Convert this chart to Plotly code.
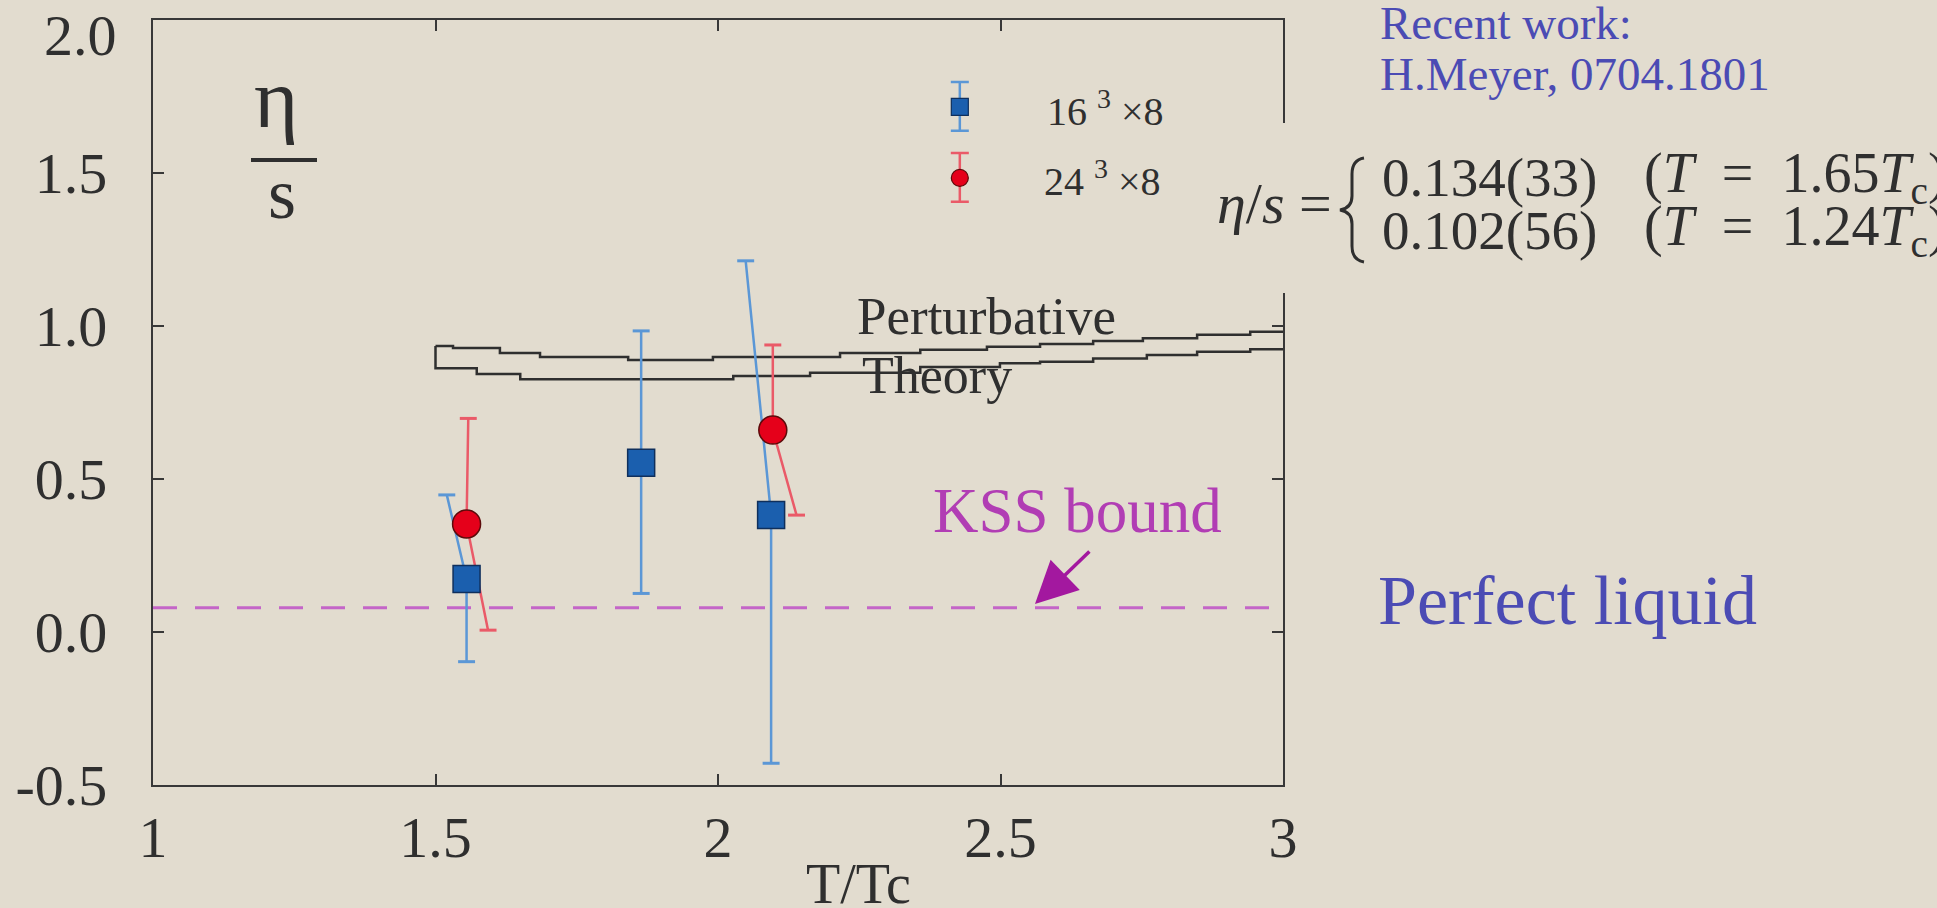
import plotly.graph_objects as go

# ---- lattice estimates of eta/s versus T/Tc (Nt = 8) ----
t16 = [1.555, 1.864, 2.094]
eta16 = [0.173, 0.553, 0.382]
eta16_hi = [0.448, 0.984, 1.213]
eta16_lo = [-0.097, 0.126, -0.429]
t16_hi = [1.520, 1.864, 2.049]   # abscissa where each upper whisker ends
t16_lo = [1.555, 1.864, 2.094]   # abscissa where each lower whisker ends

t24 = [1.555, 2.097]
eta24 = [0.353, 0.660]
eta24_hi = [0.698, 0.938]
eta24_lo = [0.006, 0.382]
t24_hi = [1.558, 2.097]
t24_lo = [1.593, 2.139]

# ---- perturbative band, upper and lower edges (step sampled) ----
pert_up_t = [1.5, 1.531, 1.614, 1.685, 1.841, 1.991, 2.216, 2.358, 2.476,
             2.570, 2.664, 2.752, 2.848, 2.942, 3.0]
pert_up = [0.935, 0.928, 0.912, 0.899, 0.889, 0.899, 0.912, 0.922, 0.932,
           0.941, 0.951, 0.960, 0.971, 0.981, 0.981]
pert_lo_t = [1.5, 1.573, 1.650, 2.027, 2.163, 2.358, 2.499, 2.570, 2.664,
             2.759, 2.848, 2.942, 3.0]
pert_lo = [0.862, 0.843, 0.826, 0.837, 0.847, 0.866, 0.878, 0.883, 0.894,
           0.905, 0.916, 0.924, 0.924]

# ---- KSS bound ----
kss_t = [1.0, 3.0]
kss = [0.0796, 0.0796]

# ---- axes ----
x_ticks = [1, 1.5, 2, 2.5, 3]
x_tick_text = ["1", "1.5", "2", "2.5", "3"]
y_ticks = [-0.5, 0.0, 0.5, 1.0, 1.5, 2.0]
y_tick_text = ["-0.5", "0.0", "0.5", "1.0", "1.5", "2.0"]

# ---- styling ----
W, H = 1937, 908
L, R, T, B = 153, 1283, 20, 785          # plot frame in pixels
BG = "#e2dccf"
INK = "#2f2f2f"
AX = "#383838"
BLUE, BLUE_EDGE, BLUE_BAR = "#1b5fae", "#0f2f5c", "#5b97d6"
RED, RED_EDGE, RED_BAR = "#e5001a", "#5c0a0a", "#ea5a68"
MAG_LINE, MAG_TEXT, MAG_ARROW = "#c465c8", "#b13db4", "#a3189f"
NAVY = "#4b4bb4"
SERIF = "Liberation Serif, Times New Roman, serif"
TICK_SIZE = 58
CAP = 0.015                                # half width of whisker caps (x units)
NB = "\u00a0"


def px(x, y):
    """pixel position -> paper coordinates"""
    return (x - L) / (R - L), (B - y) / (B - T)


def whiskers(t, y, t_hi, hi, t_lo, lo):
    xs, ys, cx, cy = [], [], [], []
    for i in range(len(t)):
        xs += [t_lo[i], t[i], t_hi[i], None]
        ys += [lo[i], y[i], hi[i], None]
        for tc, yc in ((t_hi[i], hi[i]), (t_lo[i], lo[i])):
            cx += [tc - CAP, tc + CAP, None]
            cy += [yc, yc, None]
    return xs, ys, cx, cy


fig = go.Figure()

# perturbative band outline
fig.add_trace(go.Scatter(x=pert_up_t, y=pert_up, mode="lines",
                         line=dict(color=INK, width=2.5, shape="hv"),
                         hoverinfo="skip", showlegend=False))
fig.add_trace(go.Scatter(x=[pert_up_t[0]] + pert_lo_t, y=[pert_up[0]] + pert_lo,
                         mode="lines", line=dict(color=INK, width=2.5, shape="hv"),
                         hoverinfo="skip", showlegend=False))

# KSS bound
fig.add_trace(go.Scatter(x=kss_t, y=kss, mode="lines",
                         line=dict(color=MAG_LINE, width=3, dash="24px,18px"),
                         hoverinfo="skip", showlegend=False))

# whiskers
for (t, y, th, hi, tl, lo, col) in (
        (t16, eta16, t16_hi, eta16_hi, t16_lo, eta16_lo, BLUE_BAR),
        (t24, eta24, t24_hi, eta24_hi, t24_lo, eta24_lo, RED_BAR)):
    xs, ys, cx, cy = whiskers(t, y, th, hi, tl, lo)
    fig.add_trace(go.Scatter(x=xs, y=ys, mode="lines", line=dict(color=col, width=2.5),
                             hoverinfo="skip", showlegend=False))
    fig.add_trace(go.Scatter(x=cx, y=cy, mode="lines", line=dict(color=col, width=3),
                             hoverinfo="skip", showlegend=False))

# data markers
fig.add_trace(go.Scatter(x=t16, y=eta16, mode="markers", name="16^3x8",
                         marker=dict(symbol="square", size=27, color=BLUE,
                                     line=dict(color=BLUE_EDGE, width=1.5)),
                         showlegend=False))
fig.add_trace(go.Scatter(x=t24, y=eta24, mode="markers", name="24^3x8",
                         marker=dict(symbol="circle", size=28, color=RED,
                                     line=dict(color=RED_EDGE, width=1.5)),
                         showlegend=False))

# key symbols
LEG_X = 2.428
for (ly, sym, col, edge, bar) in ((1.716, "square", BLUE, BLUE_EDGE, BLUE_BAR),
                                  (1.484, "circle", RED, RED_EDGE, RED_BAR)):
    fig.add_trace(go.Scatter(
        x=[LEG_X], y=[ly], mode="markers", hoverinfo="skip", showlegend=False,
        marker=dict(symbol=sym, size=17, color=col, line=dict(color=edge, width=1.2)),
        error_y=dict(type="data", symmetric=False, array=[0.081], arrayminus=[0.078],
                     color=bar, thickness=2.5, width=9)))


def note(text, x, y, size, color=INK, xanchor="left"):
    xp, yp = px(x, y)
    return dict(text=text, x=xp, y=yp, xref="paper", yref="paper",
                xanchor=xanchor, yanchor="middle", showarrow=False,
                font=dict(family=SERIF, size=size, color=color))


def cond(temp):
    return f"(<i>T</i>{NB}{NB}={NB}{NB}{temp}<i>T</i><sub>c</sub>)"


anns = [
    # top tick label sits just inside the page edge
    note(y_tick_text[-1], 119, 35, TICK_SIZE, xanchor="right"),
    note("η", 276, 98, 85, xanchor="center"),
    note("s", 282, 194, 72, xanchor="center"),
    note("16 <sup>3</sup> ×8", 1045, 108, 40),
    note("24 <sup>3</sup> ×8", 1042, 178, 40),
    note("Perturbative", 855, 316, 53),
    note("Theory", 860, 375, 52),
    note("KSS bound", 931, 511, 63, color=MAG_TEXT),
    note("Perfect liquid", 1376, 600, 70, color=NAVY),
    note("Recent work:", 1378, 23, 47, color=NAVY),
    note("H.Meyer, 0704.1801", 1378, 74, 47, color=NAVY),
    note("<i>η</i>/<i>s</i> =", 1215, 203, 58),
    note("0.134(33)", 1380, 177, 55),
    note("0.102(56)", 1380, 230, 55),
    note(cond("1.65"), 1642, 177, 56),
    note(cond("1.24"), 1642, 230, 56),
    note("T/Tc", 858, 884, 56, xanchor="center"),
]

# arrow pointing at the bound
anns.append(dict(x=2.561, y=0.0915, ax=2.66, ay=0.268, xref="x", yref="y",
                 axref="x", ayref="y", text="", showarrow=True, arrowhead=2,
                 arrowsize=2.4, arrowwidth=3.5, arrowcolor=MAG_ARROW))


def path_px(cmds):
    out = []
    for c in cmds:
        if isinstance(c, str):
            out.append(c)
        else:
            xp, yp = px(*c)
            out.append(f"{xp:.5f},{yp:.5f}")
    return " ".join(out)


brace = path_px(["M", (1364, 158), "Q", (1352, 160), (1352, 174), "L", (1352, 196),
                 "Q", (1352, 208), (1340, 210), "Q", (1352, 212), (1352, 224),
                 "L", (1352, 246), "Q", (1352, 260), (1364, 262)])

x0, y0 = px(1205, 123)
x1, y1 = px(1300, 293)
bx0, by = px(251, 160)
bx1, _ = px(317, 160)

shapes = [
    # fraction bar of eta/s
    dict(type="line", xref="paper", yref="paper", x0=bx0, x1=bx1, y0=by, y1=by,
         line=dict(color=INK, width=4)),
    # panel that holds the formula (interrupts the right frame)
    dict(type="rect", xref="paper", yref="paper", x0=x0, x1=x1, y0=y1, y1=y0,
         fillcolor=BG, line=dict(width=0), layer="above"),
    # brace
    dict(type="path", xref="paper", yref="paper", path=brace,
         line=dict(color=INK, width=3)),
]

axis_common = dict(ticks="inside", ticklen=11, tickwidth=2, tickcolor=AX,
                   showline=True, linecolor=AX, linewidth=2.2, mirror="ticks",
                   showgrid=False, zeroline=False,
                   tickfont=dict(family=SERIF, size=TICK_SIZE, color=INK))

fig.update_layout(
    width=W, height=H, autosize=False,
    margin=dict(l=L, r=W - R, t=T, b=H - B, pad=0),
    paper_bgcolor=BG, plot_bgcolor=BG,
    xaxis=dict(range=[1, 3], tickvals=x_ticks, ticktext=x_tick_text,
               ticklabelstandoff=0, **axis_common),
    yaxis=dict(range=[-0.5, 2.0], tickvals=y_ticks[:-1], ticktext=y_tick_text[:-1],
               ticklabelstandoff=32, **axis_common),
    annotations=anns, shapes=shapes, showlegend=False,
)

fig.write_html("out.html", config={"displayModeBar": False})
